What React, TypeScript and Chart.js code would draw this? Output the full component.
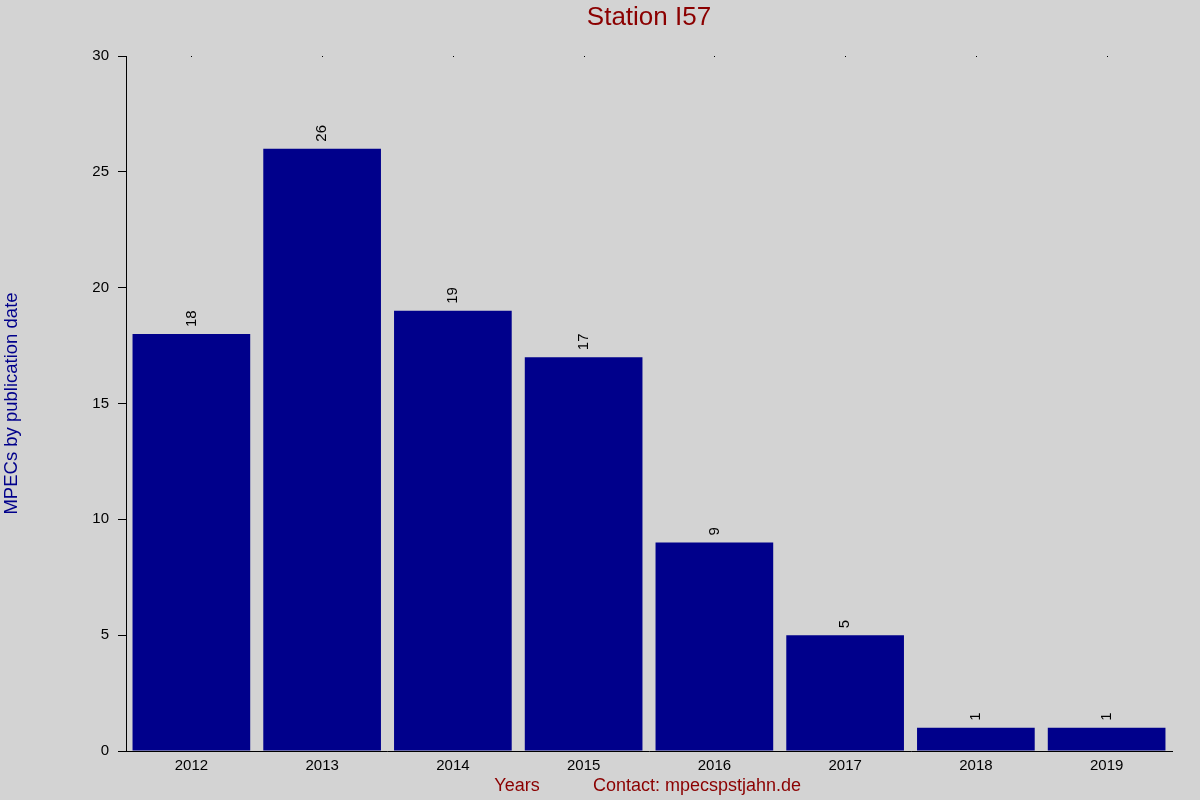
import { useEffect, useRef } from "react";
import { Chart, registerables } from "chart.js";

Chart.register(...registerables);

const years = ["2012", "2013", "2014", "2015", "2016", "2017", "2018", "2019"];
const mpecCounts = [18, 26, 19, 17, 9, 5, 1, 1];
const yTicks = [0, 5, 10, 15, 20, 25, 30];

const FONT = "'Liberation Sans', Arial, sans-serif";

// labels, axis titles and the little top tick dots
const decorPlugin = {
    id: "decor",
    afterDatasetsDraw(chart: any) {
        const { ctx, chartArea } = chart;
        const xScale = chart.scales.x;
        const meta = chart.getDatasetMeta(0);

        ctx.save();

        // value labels rotated above each bar
        ctx.fillStyle = "#000";
        ctx.font = `15px ${FONT}`;
        ctx.textAlign = "left";
        ctx.textBaseline = "middle";
        meta.data.forEach((bar: any, i: number) => {
            ctx.save();
            ctx.translate(bar.x, bar.y - 7);
            ctx.rotate(-Math.PI / 2);
            ctx.fillText(String(mpecCounts[i]), 0, 0);
            ctx.restore();
        });

        // tiny tick dots along the top
        years.forEach((_, i) => {
            const x = Math.round(xScale.getPixelForValue(i));
            ctx.fillRect(x, Math.round(chartArea.top), 1, 1);
        });

        const midX = (chartArea.left + chartArea.right) / 2;

        // title
        ctx.fillStyle = "#8b0000";
        ctx.font = `26px ${FONT}`;
        ctx.textAlign = "center";
        ctx.fillText("Station I57", midX, 18);

        // bottom texts
        ctx.font = `18px ${FONT}`;
        ctx.fillText("Years", midX - 132, 786);
        ctx.fillText("Contact: mpecspstjahn.de", midX + 48, 786);

        // y axis title
        ctx.fillStyle = "#00008b";
        ctx.font = `18.5px ${FONT}`;
        ctx.save();
        ctx.translate(12, (chartArea.top + chartArea.bottom) / 2);
        ctx.rotate(-Math.PI / 2);
        ctx.fillText("MPECs by publication date", 0, 0);
        ctx.restore();

        ctx.restore();
    },
};

export default function App() {
    const canvasRef = useRef<HTMLCanvasElement | null>(null);

    useEffect(() => {
        document.body.style.margin = "0";
        if (!canvasRef.current) {
            return;
        }

        const chart = new Chart(canvasRef.current, {
            type: "bar",
            data: {
                labels: years,
                datasets: [
                    {
                        data: mpecCounts,
                        backgroundColor: "#00008b",
                        borderWidth: 0,
                        categoryPercentage: 0.9,
                        barPercentage: 1,
                    },
                ],
            },
            options: {
                responsive: false,
                animation: false,
                layout: {
                    padding: { top: 56, right: 28, left: 0, bottom: 0 },
                },
                plugins: {
                    legend: { display: false },
                    tooltip: { enabled: false },
                },
                scales: {
                    x: {
                        afterFit: (scale: any) => {
                            scale.height = 49;
                        },
                        grid: { display: false, drawTicks: false },
                        border: { display: true, color: "#000", width: 1 },
                        ticks: {
                            color: "#000",
                            font: { family: FONT, size: 15 },
                            padding: 6,
                        },
                    },
                    y: {
                        min: 0,
                        max: 30,
                        afterFit: (scale: any) => {
                            scale.width = 126;
                        },
                        afterBuildTicks: (scale: any) => {
                            scale.ticks = yTicks.map((v) => ({ value: v }));
                        },
                        grid: {
                            display: true,
                            drawOnChartArea: false,
                            drawTicks: true,
                            tickLength: 8,
                            color: "#000",
                        },
                        border: { display: true, color: "#000", width: 1 },
                        ticks: {
                            color: "#000",
                            font: { family: FONT, size: 15 },
                            padding: 9,
                        },
                    },
                },
            },
            plugins: [
                {
                    id: "bg",
                    beforeDraw(c: any) {
                        const ctx = c.ctx;
                        ctx.save();
                        ctx.fillStyle = "#d3d3d3";
                        ctx.fillRect(0, 0, c.width, c.height);
                        ctx.restore();
                    },
                },
                decorPlugin,
            ],
        });

        return () => chart.destroy();
    }, []);

    return (
        <div style={{ width: 1200, height: 800, background: "#d3d3d3" }}>
            <canvas ref={canvasRef} width={1200} height={800} />
        </div>
    );
}
